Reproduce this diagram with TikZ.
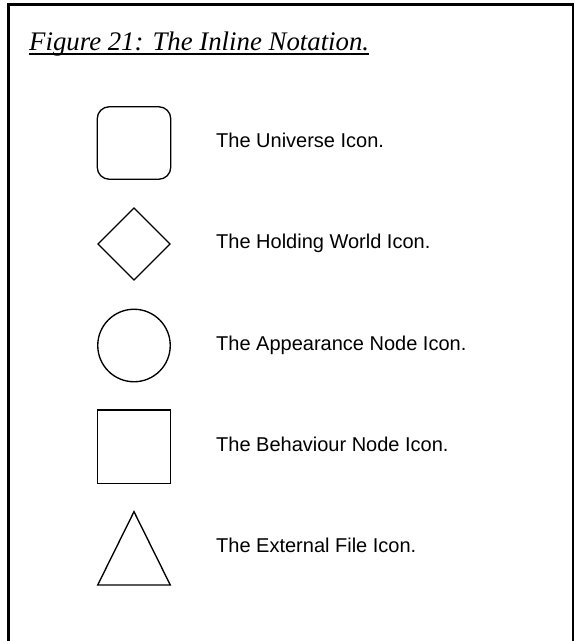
\documentclass[tikz,border=0pt]{standalone}
\usepackage{fontspec}
\setmainfont{Liberation Serif}
\newfontfamily\labelfont{Liberation Sans}
\usetikzlibrary{shapes.geometric}
\begin{document}
\begin{tikzpicture}[x=1pt,y=-1pt,
  icon/.style={draw,line width=1.35pt,inner sep=0pt},
  lbl/.style={anchor=base west,inner sep=0pt,font=\labelfont\fontsize{20}{24}\selectfont}]
\useasboundingbox (0,0) rectangle (574,641);
\fill[white] (0,0) rectangle (574,641);
% frame (open at the bottom)
\draw[line width=2.3pt] (8.5,641) -- (8.5,4.5) -- (573,4.5) -- (573,641);
% title
\node[anchor=base west,inner sep=0pt,font=\itshape\fontsize{26.8}{30}\selectfont] (title) at (29,50) {Figure 21: The Inline Notation.};
\draw[line width=1.6pt] ([yshift=-4pt]title.base west) -- ([yshift=-4pt]title.base east);
% icons
\node[icon,rectangle,rounded corners=12pt,minimum width=73.5pt,minimum height=72.5pt] (universe) at (134,143) {};
\node[icon,diamond,minimum width=72.5pt,minimum height=72.5pt] (holding) at (134,244) {};
\node[icon,circle,minimum size=72.5pt] (appearance) at (134,345.5) {};
\node[icon,rectangle,minimum width=73.5pt,minimum height=73.5pt] (behaviour) at (134,446.7) {};
\coordinate (tl) at (97.7,585);
\coordinate (tt) at (134,511.7);
\coordinate (tr) at (170.3,585);
\draw[line width=1.35pt,line join=miter] (tl) -- (tt) -- (tr) -- cycle;
% labels
\node[lbl] (l1) at (216,147.7) {The Universe Icon.};
\node[lbl] (l2) at (216,248.7) {The Holding World Icon.};
\node[lbl] (l3) at (216,350.2) {The Appearance Node Icon.};
\node[lbl] (l4) at (216,451.4) {The Behaviour Node Icon.};
\node[lbl] (l5) at (216,552.7) {The External File Icon.};
\end{tikzpicture}
\end{document}
